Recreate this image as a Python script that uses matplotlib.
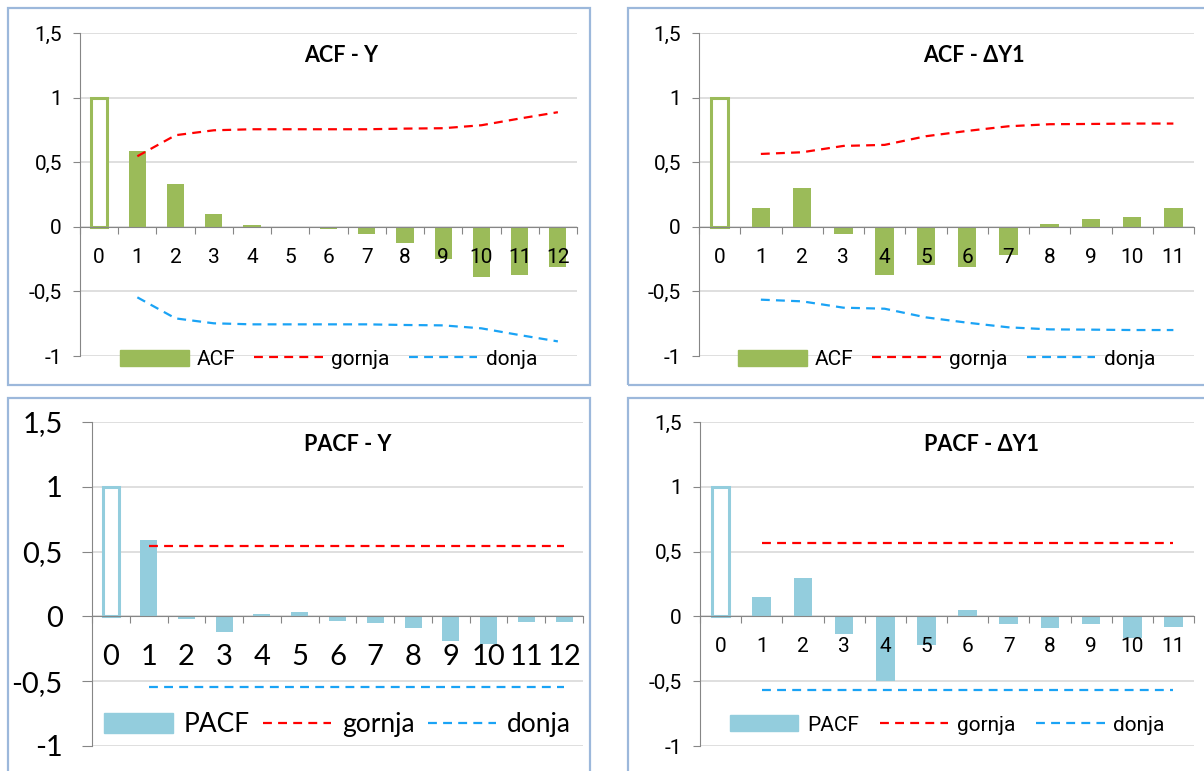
import numpy as np
import matplotlib
matplotlib.use('Agg')
import matplotlib.pyplot as plt
from matplotlib.patches import Rectangle, Patch
from matplotlib.lines import Line2D
from matplotlib.ticker import FixedLocator, FuncFormatter, NullFormatter

# ACF - Y
acf_y = [1.0, 0.585, 0.33, 0.098, 0.013, 0.0, -0.018, -0.057, -0.124, -0.253, -0.387, -0.376, -0.309]
acf_y_gornja = [0.546, 0.709, 0.747, 0.755, 0.755, 0.755, 0.755, 0.76, 0.763, 0.786, 0.838, 0.887]

# ACF - dY1
acf_d = [1.0, 0.142, 0.304, -0.054, -0.376, -0.299, -0.309, -0.216, 0.018, 0.064, 0.075, 0.149]
acf_d_gornja = [0.564, 0.577, 0.626, 0.634, 0.701, 0.742, 0.778, 0.794, 0.796, 0.799, 0.799]

# PACF - Y
pacf_y = [1.0, 0.59, -0.02, -0.123, 0.015, 0.036, -0.033, -0.054, -0.087, -0.188, -0.211, -0.041, -0.041]
pacf_y_gornja = [0.545] * 12

# PACF - dY1
pacf_d = [1.0, 0.147, 0.293, -0.137, -0.497, -0.224, 0.051, -0.062, -0.09, -0.062, -0.17, -0.08]
pacf_d_gornja = [0.566] * 11

GREEN = '#9BBB59'
LBLUE = '#93CDDD'
RED = '#FF0000'
DBLUE = '#1AA3F5'
W, H = 1204, 771

fig = plt.figure(figsize=(W / 100, H / 100), dpi=100)


def px_axes(x0, x1, ytop, ybot):
    return fig.add_axes([x0 / W, (H - ybot) / H, (x1 - x0) / W, (ybot - ytop) / H])


def comma(v, pos):
    s = '%g' % v
    return s.replace('.', ',')


def panel(rect, vals, gornja, color, name, title, tx, fs, font, lfs, tick_pad,
          leg_y, colsp, hlen, ypad, ylen):
    ax = px_axes(*rect)
    n = len(vals)
    lags = np.arange(n)
    ax.set_xlim(-0.5, n - 0.5)
    ax.set_ylim(-1, 1.5)
    # lag 0 hollow, rest filled
    ax.bar(lags[:1], vals[:1], width=0.42, facecolor='white', edgecolor=color, linewidth=2.2, zorder=3)
    ax.bar(lags[1:], vals[1:], width=0.45, color=color, zorder=3)
    g = np.array(gornja)
    ax.plot(lags[1:], g, color=RED, lw=1.6, dashes=(4, 2.8), zorder=4)
    ax.plot(lags[1:], -g, color=DBLUE, lw=1.6, dashes=(4, 2.8), zorder=4)

    for s in ['top', 'right']:
        ax.spines[s].set_visible(False)
    ax.spines['bottom'].set_position(('data', 0))
    ax.spines['bottom'].set_color('#868686')
    ax.spines['left'].set_color('#868686')
    ax.spines['bottom'].set_zorder(5)

    ax.set_yticks([-1, -0.5, 0, 0.5, 1, 1.5])
    ax.yaxis.set_major_formatter(FuncFormatter(comma))
    ax.yaxis.grid(True, color='#D9D9D9', lw=1.2)
    ax.set_axisbelow(True)
    ax.xaxis.set_zorder(6)  # lag labels sit over the bars
    ax.tick_params(axis='y', length=ylen, color='#868686', labelsize=fs, pad=ypad)

    ax.xaxis.set_major_locator(FixedLocator(np.arange(n + 1) - 0.5))
    ax.xaxis.set_major_formatter(NullFormatter())
    ax.xaxis.set_minor_locator(FixedLocator(lags))
    ax.set_xticklabels([str(i) for i in lags], minor=True)
    ax.tick_params(axis='x', which='major', length=5, color='#868686', direction='out')
    ax.tick_params(axis='x', which='minor', length=0, labelsize=fs, pad=tick_pad)
    for lab in ax.get_xticklabels(minor=True) + ax.get_yticklabels():
        lab.set_family(font)

    ax.text(tx, 0.93, title, transform=ax.transAxes, ha='center', va='center',
            fontsize=15.5, fontweight='bold', family=['Lato', 'DejaVu Sans'])

    handles = [Patch(color=color), Line2D([], [], color=RED, lw=1.6, dashes=(4, 2.8)),
               Line2D([], [], color=DBLUE, lw=1.6, dashes=(4, 2.8))]
    ax.legend(handles, [name, 'gornja', 'donja'], loc='center', bbox_to_anchor=(0.5, leg_y),
              ncol=3, frameon=False, handlelength=hlen, handleheight=0.8, columnspacing=colsp,
              handletextpad=0.4, prop={'family': font, 'size': lfs})
    return ax


narrow = ['Roboto', 'DejaVu Sans']
regular = ['Lato', 'DejaVu Sans']

panel((80, 577, 33, 356), acf_y, acf_y_gornja, GREEN, 'ACF', 'ACF - Y', 0.525,
      15, narrow, 15, 15, -0.01, 0.9, 3.3, 8, 5)
panel((699, 1194, 33, 356), acf_d, acf_d_gornja, GREEN, 'ACF', 'ACF - \u0394Y1', 0.555,
      15, narrow, 15, 15, -0.01, 0.9, 3.3, 8, 5)
panel((92, 583, 422, 746), pacf_y, pacf_y_gornja, LBLUE, 'PACF', 'PACF - Y', 0.52,
      21, regular, 19, 20, 0.065, 0.5, 2.6, 14, 7)
panel((700, 1194, 422, 746), pacf_d, pacf_d_gornja, LBLUE, 'PACF', 'PACF - \u0394Y1', 0.57,
      15, narrow, 15, 15, 0.065, 1.0, 3.3, 8, 5)

# chart area borders
for (x0, y0, x1, y1) in [(8, 8, 590, 385), (628, 8, 1210, 385), (8, 398, 590, 780), (628, 398, 1210, 780)]:
    fig.patches.append(Rectangle((x0 / W, (H - y1) / H), (x1 - x0) / W, (y1 - y0) / H,
                                 transform=fig.transFigure, fill=False, edgecolor='#9CB8DB', lw=1.6))

fig.savefig('out.png', dpi=100)
